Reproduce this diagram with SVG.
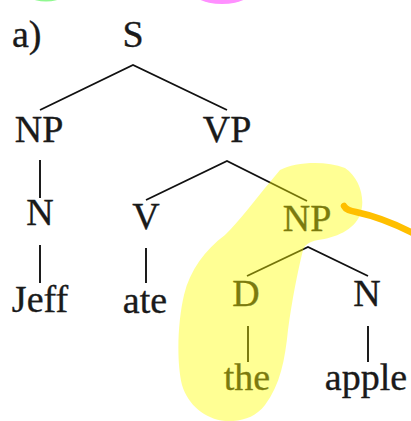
<svg xmlns="http://www.w3.org/2000/svg" width="411" height="421" viewBox="0 0 411 421">
  <style>
    .t { font-family: "Liberation Serif", "Times New Roman", serif; font-size: 38px; fill: #1a1a1a; stroke: #1a1a1a; stroke-width: 0.35; text-anchor: middle; }
    .e { stroke: #111; stroke-width: 1.9; fill: none; stroke-linejoin: miter; }
  </style>
  <rect width="411" height="421" fill="#ffffff"/>
  <!-- partially visible marks at top -->
  <ellipse cx="46" cy="-16" rx="27" ry="17.5" fill="#90f890"/>
  <ellipse cx="222" cy="-14" rx="34" ry="18" fill="#ff90ff"/>

  <g id="connectors">
    <polyline class="e" points="40,110 133,65 227,110"/>
    <line class="e" x1="40" y1="160" x2="40" y2="198"/>
    <polyline class="e" points="146,200 227,161 307,201"/>
    <line class="e" x1="40" y1="245" x2="40" y2="283"/>
    <line class="e" x1="146" y1="248" x2="146" y2="283"/>
    <polyline class="e" points="247,276 308,247 368,276"/>
    <line class="e" x1="248" y1="326" x2="248" y2="362"/>
    <line class="e" x1="368" y1="326" x2="368" y2="362"/>
  </g>

  <text class="t" x="12" y="47" style="text-anchor:start">a)</text>
  <g id="S"><text class="t" x="133" y="47">S</text></g>
  <g id="NP1"><text class="t" x="39" y="142">NP</text></g>
  <g id="VP"><text class="t" x="227" y="142">VP</text></g>
  <g id="N1"><text class="t" x="40" y="225">N</text></g>
  <g id="V"><text class="t" x="146" y="229">V</text></g>
  <g id="NP2"><text class="t" x="307" y="231">NP</text></g>
  <g id="Jeff"><text class="t" x="40" y="312">Jeff</text></g>
  <g id="ate"><text class="t" x="145" y="313">ate</text></g>
  <g id="D"><text class="t" x="246" y="306">D</text></g>
  <g id="N2"><text class="t" x="367" y="306">N</text></g>
  <g id="the"><text class="t" x="247" y="390">the</text></g>
  <g id="apple"><text class="t" x="366" y="390">apple</text></g>

  <!-- highlighter -->
  <path d="M 280,170 C 295,162 325,160 345,168 C 360,178 366,200 360,215 C 354,230 335,238 318,240 C 308,242 305,245 303,250 C 298,270 292,300 288,330 C 285,360 280,385 265,405 C 255,418 240,422 225,421 C 205,419 188,405 182,385 C 176,360 178,320 184,295 C 190,270 205,250 225,235 C 240,220 255,200 270,182 Z" fill="#ffff00" fill-opacity="0.42"/>
  <!-- orange stroke -->
  <path d="M 344,206 C 346,210 350,211 356,212 C 375,216 393,223 413,233" fill="none" stroke="#ffbf00" stroke-width="6.5" stroke-linecap="round"/>
</svg>
